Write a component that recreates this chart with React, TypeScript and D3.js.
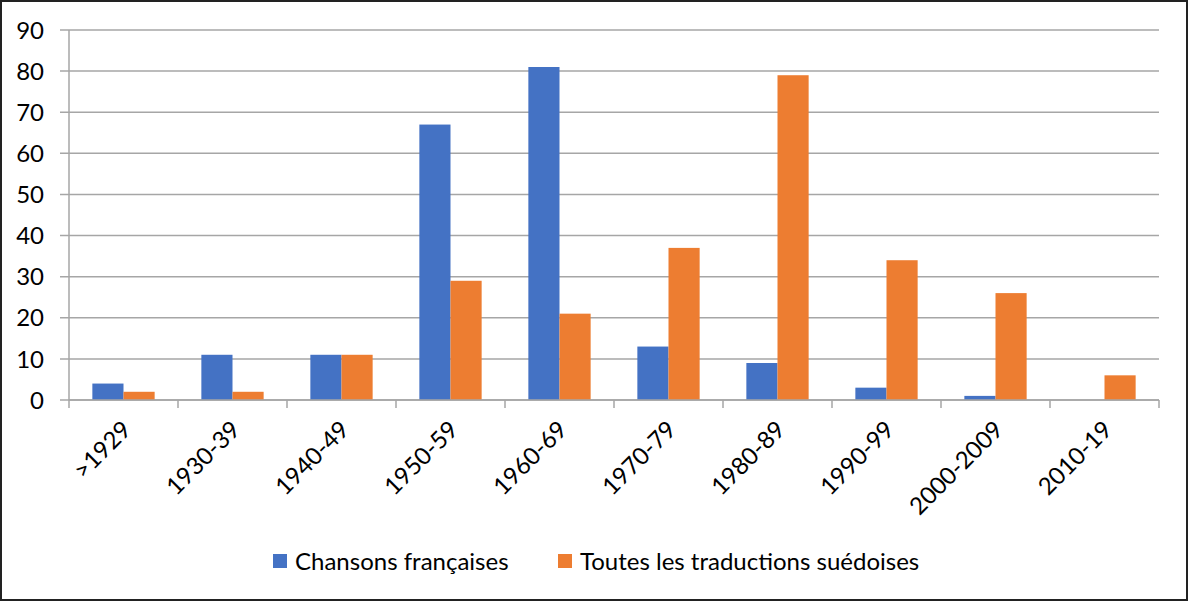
import React, { useEffect, useRef } from 'react';
import * as d3 from 'd3';

const categories = ['>1929', '1930-39', '1940-49', '1950-59', '1960-69', '1970-79', '1980-89', '1990-99', '2000-2009', '2010-19'];
const chansons = [4, 11, 11, 67, 81, 13, 9, 3, 1, 0];
const traductions = [2, 2, 11, 29, 21, 37, 79, 34, 26, 6];
const seriesNames = ['Chansons françaises', 'Toutes les traductions suédoises'];
const seriesColors = ['#4472C4', '#ED7D31'];
const yTicks = [0, 10, 20, 30, 40, 50, 60, 70, 80, 90];

const W = 1200;
const H = 614;
const FONT = 'Lato, "Open Sans", sans-serif';

const App: React.FC = () => {
  const ref = useRef<SVGSVGElement>(null);

  useEffect(() => {
    const { current: node } = ref;
    if (!node) {
      return;
    }
    const svg = d3.select(node);
    svg.selectAll('*').remove();

    const left = 69;
    const right = 1159;
    const top = 30;
    const bottom = 400;

    const x = d3.scaleBand<string>().domain(categories).range([left, right]);
    const inner = d3
      .scaleBand<number>()
      .domain([0, 1])
      .range([0, x.bandwidth()])
      .paddingInner(0)
      .paddingOuter(0.75);
    const y = d3.scaleLinear().domain([0, 90]).range([bottom, top]);

    // cadre
    svg
      .append('rect')
      .attr('x', 1)
      .attr('y', 1)
      .attr('width', 1186)
      .attr('height', 599)
      .attr('fill', '#fff')
      .attr('stroke', '#222')
      .attr('stroke-width', 2);

    // grille
    svg
      .append('g')
      .selectAll('line')
      .data(yTicks)
      .join('line')
      .attr('x1', left - 9)
      .attr('x2', right)
      .attr('y1', (d) => y(d))
      .attr('y2', (d) => y(d))
      .attr('stroke', '#a6a6a6')
      .attr('stroke-width', 1.5);

    svg
      .append('g')
      .selectAll('text')
      .data(yTicks)
      .join('text')
      .attr('x', 44)
      .attr('y', (d) => y(d))
      .attr('dy', '0.36em')
      .attr('text-anchor', 'end')
      .attr('font-family', FONT)
      .attr('font-size', 24)
      .attr('fill', '#000')
      .text((d) => d);

    // barres
    const series = [chansons, traductions];
    series.forEach((values, si) => {
      svg
        .append('g')
        .selectAll('rect')
        .data(values)
        .join('rect')
        .attr('x', (_, i) => x(categories[i])! + inner(si)!)
        .attr('width', inner.bandwidth())
        .attr('y', (d) => y(d))
        .attr('height', (d) => y(0) - y(d))
        .attr('fill', seriesColors[si]);
    });

    // axes
    svg
      .append('line')
      .attr('x1', left)
      .attr('x2', left)
      .attr('y1', top)
      .attr('y2', bottom)
      .attr('stroke', '#a6a6a6')
      .attr('stroke-width', 1.5);
    svg
      .append('line')
      .attr('x1', left)
      .attr('x2', right)
      .attr('y1', bottom)
      .attr('y2', bottom)
      .attr('stroke', '#a6a6a6')
      .attr('stroke-width', 1.5);

    const bounds = categories.map((c) => x(c)!).concat([right]);
    svg
      .append('g')
      .selectAll('line')
      .data(bounds)
      .join('line')
      .attr('x1', (d) => d)
      .attr('x2', (d) => d)
      .attr('y1', bottom)
      .attr('y2', bottom + 8)
      .attr('stroke', '#a6a6a6')
      .attr('stroke-width', 1.5);

    // étiquettes x
    svg
      .append('g')
      .selectAll('text')
      .data(categories)
      .join('text')
      .attr('transform', (d) => {
        const cx = x(d)! + x.bandwidth() / 2 + 3;
        return `translate(${cx},${bottom + 25}) rotate(-45)`;
      })
      .attr('dy', '0.36em')
      .attr('text-anchor', 'end')
      .attr('font-family', FONT)
      .attr('font-size', 24)
      .attr('fill', '#000')
      .text((d) => d);

    // légende
    const legendX = [273, 558];
    seriesNames.forEach((name, si) => {
      svg
        .append('rect')
        .attr('x', legendX[si])
        .attr('y', 554)
        .attr('width', 14)
        .attr('height', 14)
        .attr('fill', seriesColors[si]);
      svg
        .append('text')
        .attr('x', legendX[si] + 22)
        .attr('y', 561)
        .attr('dy', '0.36em')
        .attr('font-family', FONT)
        .attr('font-size', 24)
        .attr('fill', '#000')
        .text(name);
    });
  }, []);

  return (
    <svg
      ref={ref}
      width={W}
      height={H}
      style={{ position: 'absolute', left: 0, top: 0, background: '#fff' }}
    />
  );
};

export default App;
